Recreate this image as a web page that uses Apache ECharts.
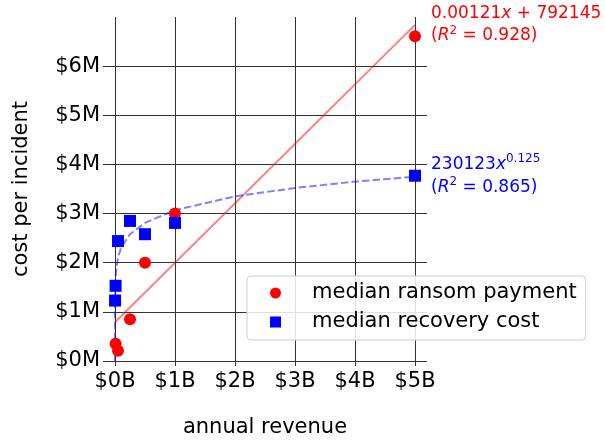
<!DOCTYPE html>
<html>
<head>
<meta charset="utf-8">
<script src="https://cdn.jsdelivr.net/npm/echarts@6/dist/echarts.min.js"></script>
<style>
  html, body { margin: 0; padding: 0; background: #fff; }
  #chart { width: 605px; height: 441px; }
</style>
</head>
<body>
<div id="chart"></div>
<script>
// revenue in $B, cost in $M
var ransomRevenue = [0.01, 0.05, 0.25, 0.5, 1, 5];
var ransomCost = [0.35, 0.21, 0.85, 2.0, 3.0, 6.61];
var recoveryRevenue = [0.001, 0.01, 0.05, 0.25, 0.5, 1, 5];
var recoveryCost = [1.23, 1.53, 2.44, 2.85, 2.58, 2.81, 3.77];
// fitted lines
var linearFitRevenue = [0, 5];
var linearFitCost = [0.79, 6.84];
var powerFitRevenue = [0, 0.0001, 0.001, 0.01, 0.05, 0.1, 0.25, 0.5, 1, 2, 3, 4, 5];
var powerFitCost = [0, 0.97, 1.29, 1.73, 2.11, 2.30, 2.58, 2.81, 3.07, 3.35, 3.52, 3.65, 3.75];
var xTicks = [0, 1, 2, 3, 4, 5];
var yTicks = [0, 1, 2, 3, 4, 5, 6];

function pairs(xs, ys) {
  return xs.map(function (x, i) { return [x, ys[i]]; });
}

var font = 'DejaVu Sans';
var chart = echarts.init(document.getElementById('chart'));
var option = {
  animation: false,
  textStyle: { fontFamily: font },
  grid: { left: 103, right: 178, top: 17, bottom: 80, outerBoundsMode: 'none' },
  xAxis: {
    type: 'value',
    min: -0.2,
    max: 5.2,
    name: 'annual revenue',
    nameLocation: 'middle',
    nameGap: 56,
    nameTextStyle: { fontSize: 21, color: '#000', fontFamily: font },
    axisLine: { show: false },
    axisTick: { show: true, length: 5, customValues: xTicks, lineStyle: { color: '#333' } },
    axisLabel: {
      customValues: xTicks,
      fontSize: 21, color: '#000', margin: 10,
      formatter: function (v) { return '$' + v + 'B'; }
    },
    splitLine: { show: true, lineStyle: { color: '#333', width: 1 } }
  },
  yAxis: {
    type: 'value',
    min: 0,
    max: 7,
    name: 'cost per incident',
    nameLocation: 'middle',
    nameGap: 71,
    nameTextStyle: { fontSize: 21, color: '#000', fontFamily: font },
    axisLine: { show: false },
    axisTick: { show: false, customValues: yTicks },
    axisLabel: {
      customValues: yTicks,
      fontSize: 21, color: '#000', margin: 3,
      formatter: function (v) { return '$' + v + 'M'; }
    },
    splitLine: { show: true, lineStyle: { color: '#333', width: 1 } }
  },
  legend: {
    orient: 'vertical',
    left: 247,
    top: 276,
    padding: [5, 9, 6, 23],
    itemGap: 5,
    itemWidth: 11,
    itemHeight: 11,
    backgroundColor: 'rgba(255,255,255,0.85)',
    borderColor: '#cccccc',
    borderWidth: 1,
    borderRadius: 4,
    textStyle: { fontSize: 21, color: '#000', fontFamily: font, lineHeight: 24, padding: [0, 0, 0, 26] },
    data: ['median ransom payment', 'median recovery cost']
  },
  series: [
    {
      name: 'linear fit',
      type: 'line',
      data: pairs(linearFitRevenue, linearFitCost),
      showSymbol: false,
      lineStyle: { color: 'rgba(255,0,0,0.5)', width: 2 },
      z: 1
    },
    {
      name: 'power fit',
      type: 'line',
      data: pairs(powerFitRevenue, powerFitCost),
      showSymbol: false,
      lineStyle: { color: 'rgba(0,0,255,0.5)', width: 2, type: [7.4, 3.2] },
      z: 1
    },
    {
      name: 'median ransom payment',
      type: 'scatter',
      data: pairs(ransomRevenue, ransomCost),
      symbol: 'circle',
      symbolSize: 12,
      itemStyle: { color: '#ff0000', opacity: 1 },
      z: 3
    },
    {
      name: 'median recovery cost',
      type: 'scatter',
      data: pairs(recoveryRevenue, recoveryCost),
      symbol: 'rect',
      symbolSize: 12,
      itemStyle: { color: '#0000ff', opacity: 1 },
      z: 3
    }
  ],
  graphic: [
    {
      type: 'text', left: 431, top: 5,
      style: {
        text: '{a|0.00121}{i|x}{a| + 792145}\n{a|(}{i|R}{s|2}{a| = 0.928)}',
        fill: '#ff0000',
        rich: {
          a: { fontSize: 17, fontFamily: font, fill: '#ff0000', lineHeight: 22 },
          i: { fontSize: 17, fontFamily: font, fontStyle: 'italic', fill: '#ff0000', lineHeight: 22 },
          s: { fontSize: 12, fontFamily: font, fill: '#ff0000', lineHeight: 22, verticalAlign: 'top' }
        }
      }
    },
    {
      type: 'text', left: 431, top: 153,
      style: {
        text: '{a|230123}{i|x}{s|0.125}\n{a|(}{i|R}{s|2}{a| = 0.865)}',
        fill: '#0000ff',
        rich: {
          a: { fontSize: 17, fontFamily: font, fill: '#0000ff', lineHeight: 23 },
          i: { fontSize: 17, fontFamily: font, fontStyle: 'italic', fill: '#0000ff', lineHeight: 23 },
          s: { fontSize: 12, fontFamily: font, fill: '#0000ff', lineHeight: 23, verticalAlign: 'top' }
        }
      }
    }
  ]
};
chart.setOption(option);
</script>
</body>
</html>
